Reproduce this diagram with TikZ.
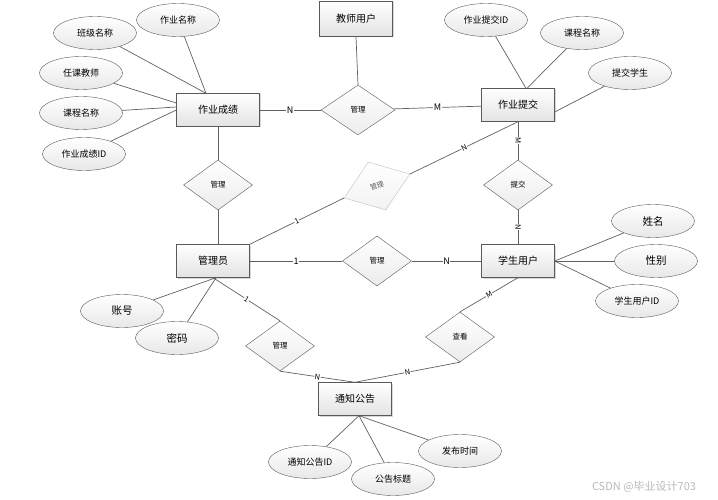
\documentclass[tikz,border=0pt]{standalone}
\usepackage{fontspec}
\newfontfamily\cjk{Noto Sans CJK SC}
\usetikzlibrary{shapes.geometric,shadows}
\begin{document}
\begin{tikzpicture}[x=1pt,y=-1pt,font=\cjk,
	entity/.style={draw=gray!70!black,top color=white,bottom color=gray!22,drop shadow={shadow xshift=1pt,shadow yshift=-1pt,fill=gray!60},minimum width=73pt,minimum height=33pt,inner sep=0pt,font=\cjk\fontsize{10}{12}\selectfont},
	attr/.style={ellipse,draw=gray!70!black,top color=white,bottom color=gray!18,minimum width=83pt,minimum height=33pt,inner sep=0pt,font=\cjk\fontsize{9}{11}\selectfont},
	bigattr/.style={attr,font=\cjk\fontsize{10.5}{12}\selectfont},
	rel/.style={diamond,draw=gray!70!black,top color=white,bottom color=gray!15,minimum width=69pt,minimum height=50pt,inner sep=0pt,font=\cjk\fontsize{7.5}{9}\selectfont},
	link/.style={draw=gray!75!black,line width=0.7pt},
	card/.style={fill=white,inner sep=0.5pt,font=\cjk\fontsize{9}{10}\selectfont},
	slopecard/.style={card,sloped,font=\cjk\fontsize{7.5}{9}\selectfont}]
	\useasboundingbox (0,0) rectangle (718,500);
	\node[entity,minimum width=83pt] (zycj) at (218,110) {作业成绩};
	\node[entity,minimum height=35pt] (jsyh) at (356,19) {教师用户};
	\node[entity] (zytj) at (518,105) {作业提交};
	\node[entity] (gly) at (213,261) {管理员};
	\node[entity] (xsyh) at (518,261) {学生用户};
	\node[entity] (tzgg) at (355,399) {通知公告};
	\node[rel,minimum width=74pt] (gl1) at (358,110) {管理};
	\node[rel] (gl2) at (218,185) {管理};
	\node[rel,draw=gray!50,bottom color=gray!10,text=gray!70!black,minimum width=70pt,minimum height=51pt,rotate=20,font=\cjk\fontsize{7}{8}\selectfont] (gl3) at (377,186) {管理};
	\node[rel] (tj) at (518,185) {提交};
	\node[rel] (gl4) at (377,261) {管理};
	\node[rel] (gl5) at (280,346) {管理};
	\node[rel] (ck) at (460,337) {查看};
	\node[attr] (zymc) at (178,20) {作业名称};
	\node[attr] (bjmc) at (95,33) {班级名称};
	\node[attr] (rkjs) at (81,73) {任课教师};
	\node[attr] (kcmc1) at (81,113) {课程名称};
	\node[attr] (cjid) at (84,154) {作业成绩ID};
	\node[attr] (tjid) at (486,20) {作业提交ID};
	\node[attr] (kcmc2) at (582,33) {课程名称};
	\node[attr] (tjxs) at (630,73) {提交学生};
	\node[bigattr] (xm) at (653,221) {姓名};
	\node[bigattr] (xb) at (656,261) {性别};
	\node[attr] (xsid) at (637,301) {学生用户ID};
	\node[bigattr] (zh) at (122,311) {账号};
	\node[bigattr] (mm) at (177,338) {密码};
	\node[attr] (ggid) at (310,462) {通知公告ID};
	\node[attr] (ggbt) at (393,479) {公告标题};
	\node[attr] (fbsj) at (460,451) {发布时间};
	\node[text=gray!55,font=\cjk\fontsize{11}{12}\selectfont] (wm) at (644,487) {CSDN @毕业设计703};
	\draw[link] (zycj) -- (gl1) node[card,midway] {N};
	\draw[link] (gl1) -- (zytj) node[card,midway] {M};
	\draw[link] (jsyh.south) -- (gl1.north);
	\draw[link] (zycj) -- (gl2);
	\draw[link] (gl2.south) -- (gl2.south |- gly.north);
	\draw[link] (gly.north east) -- (gl3.west) node[slopecard,midway] {1};
	\draw[link] (gl3.east) -- (zytj.south) node[slopecard,midway] {N};
	\draw[link] (zytj) -- (tj) node[slopecard,midway] {M};
	\draw[link] (tj) -- (xsyh) node[slopecard,midway] {N};
	\draw[link] (gly) -- (gl4) node[card,midway] {1};
	\draw[link] (gl4) -- (xsyh) node[card,midway] {N};
	\draw[link] (gly.south) -- (gl5.north) node[slopecard,midway] {1};
	\draw[link] (gl5.south) -- (tzgg.north) node[slopecard,midway] {N};
	\draw[link] (xsyh.south) -- (ck.north) node[slopecard,midway] {M};
	\draw[link] (ck.south) -- (tzgg.north) node[slopecard,midway] {N};
	\draw[link] (zymc) -- ([xshift=-12pt]zycj.north);
	\draw[link] (bjmc) -- ([xshift=-12pt]zycj.north);
	\draw[link] (rkjs) -- ([yshift=7pt]zycj.west);
	\draw[link] (kcmc1) -- ([yshift=3pt]zycj.west);
	\draw[link] (cjid) -- (zycj.west);
	\draw[link] (tjid) -- ([xshift=8pt]zytj.north);
	\draw[link] (kcmc2) -- ([xshift=9pt]zytj.north);
	\draw[link] (tjxs) -- ([yshift=-7pt]zytj.east);
	\draw[link] (xm) -- (xsyh.east);
	\draw[link] (xb) -- (xsyh.east);
	\draw[link] (xsid) -- (xsyh.east);
	\draw[link] (zh) -- ([xshift=3pt]gly.south);
	\draw[link] (mm) -- ([xshift=3pt]gly.south);
	\draw[link] (ggid) -- ([xshift=4pt]tzgg.south);
	\draw[link] (ggbt) -- ([xshift=4pt]tzgg.south);
	\draw[link] (fbsj) -- ([xshift=4pt]tzgg.south);
\end{tikzpicture}
\end{document}
